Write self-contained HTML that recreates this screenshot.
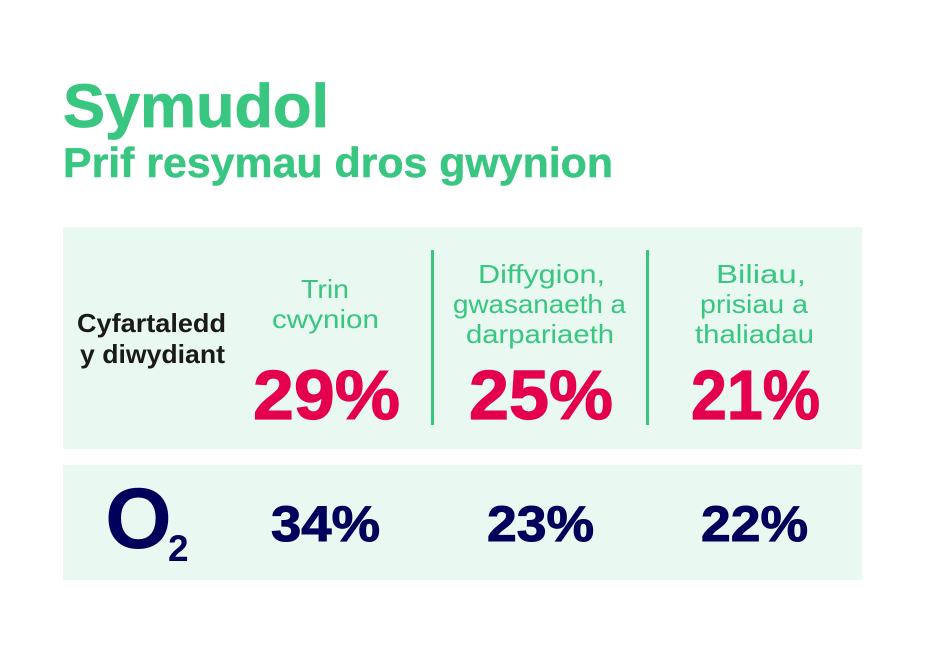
<!DOCTYPE html>
<html lang="cy">
<head>
<meta charset="utf-8">
<title>Symudol</title>
<style>
html,body{margin:0;padding:0;background:#fff;width:929px;height:655px;overflow:hidden}
svg{display:block}
text{font-family:"Liberation Sans",sans-serif}
.g{fill:#38c680}
.lab{fill:#38c680;font-size:26px}
.red{fill:#e4004f;font-size:70px;font-weight:700;stroke:#e4004f;stroke-width:1.2}
.navy{fill:#01015c;font-size:50px;font-weight:700;stroke:#01015c;stroke-width:1}
.avg{fill:#1a1a1a;font-size:26px;font-weight:700}
</style>
</head>
<body>
<svg width="929" height="655" viewBox="0 0 929 655" xmlns="http://www.w3.org/2000/svg">
  <text class="g" x="63" y="127" font-size="61" font-weight="700" stroke="#38c680" stroke-width="0.8" textLength="266" lengthAdjust="spacingAndGlyphs">Symudol</text>
  <text class="g" x="63" y="177" font-size="42" font-weight="700" stroke="#38c680" stroke-width="0.5" textLength="550" lengthAdjust="spacingAndGlyphs">Prif resymau dros gwynion</text>

  <rect x="63" y="227" width="799" height="222" fill="#e9f8f1"/>
  <rect x="63" y="465" width="799" height="115" fill="#e9f8f1"/>
  <rect x="431" y="250" width="3" height="175" fill="#38c680"/>
  <rect x="646" y="250" width="3" height="175" fill="#38c680"/>

  <text class="avg" x="77" y="332" textLength="149" lengthAdjust="spacingAndGlyphs">Cyfartaledd</text>
  <text class="avg" x="80" y="363" textLength="145" lengthAdjust="spacingAndGlyphs">y diwydiant</text>

  <text class="lab" x="301" y="298" textLength="48" lengthAdjust="spacingAndGlyphs">Trin</text>
  <text class="lab" x="272" y="328" textLength="107" lengthAdjust="spacingAndGlyphs">cwynion</text>

  <text class="lab" x="478" y="283" textLength="127" lengthAdjust="spacingAndGlyphs">Diffygion,</text>
  <text class="lab" x="453" y="313" textLength="173" lengthAdjust="spacingAndGlyphs">gwasanaeth a</text>
  <text class="lab" x="466" y="343" textLength="148" lengthAdjust="spacingAndGlyphs">darpariaeth</text>

  <text class="lab" x="716" y="283" textLength="90" lengthAdjust="spacingAndGlyphs">Biliau,</text>
  <text class="lab" x="700" y="313" textLength="108" lengthAdjust="spacingAndGlyphs">prisiau a</text>
  <text class="lab" x="695" y="343" textLength="119" lengthAdjust="spacingAndGlyphs">thaliadau</text>

  <text class="red" x="253" y="419" textLength="147" lengthAdjust="spacingAndGlyphs">29%</text>
  <text class="red" x="469" y="419" textLength="144" lengthAdjust="spacingAndGlyphs">25%</text>
  <text class="red" x="691" y="419" textLength="129" lengthAdjust="spacingAndGlyphs">21%</text>

  <text x="105" y="548" font-size="86" font-weight="700" fill="#01015c">O</text>
  <text x="168" y="561" font-size="37" font-weight="700" fill="#01015c">2</text>

  <text class="navy" x="271" y="541" textLength="109" lengthAdjust="spacingAndGlyphs">34%</text>
  <text class="navy" x="487" y="541" textLength="107" lengthAdjust="spacingAndGlyphs">23%</text>
  <text class="navy" x="701" y="541" textLength="107" lengthAdjust="spacingAndGlyphs">22%</text>
</svg>
</body>
</html>
